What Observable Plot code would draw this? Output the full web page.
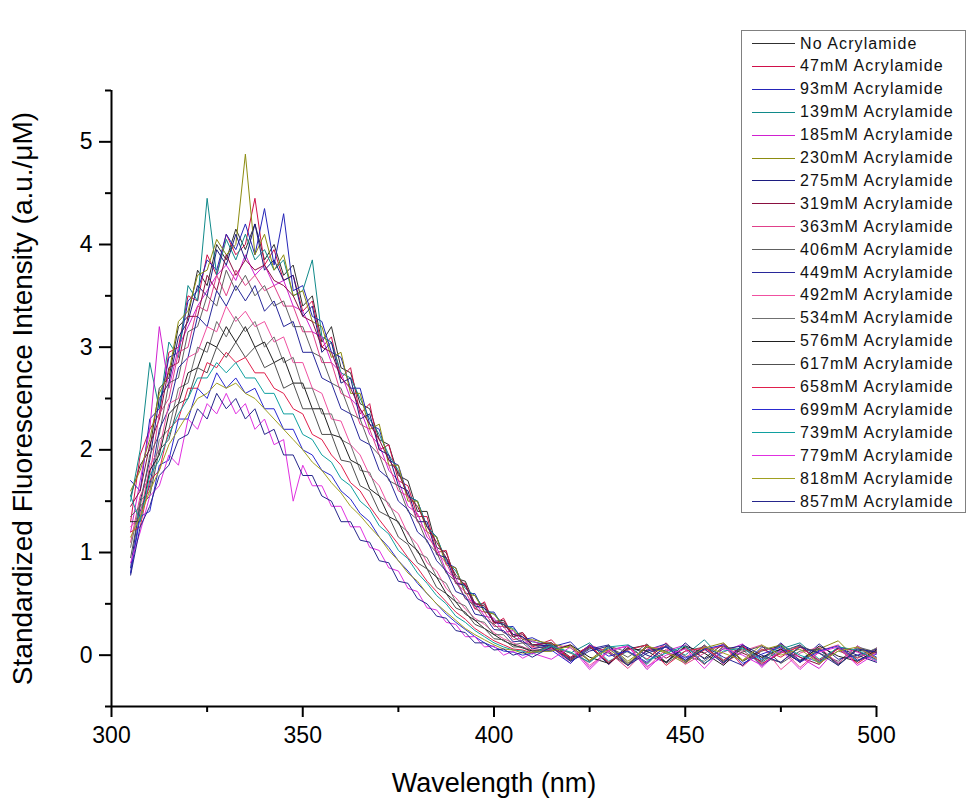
<!DOCTYPE html>
<html>
<head>
<meta charset="utf-8">
<script src="https://cdn.jsdelivr.net/npm/d3@7"></script>
<script src="https://cdn.jsdelivr.net/npm/@observablehq/plot@0.6"></script>
<style>
  html, body { margin: 0; padding: 0; background: #fff; }
  #wrap { position: relative; width: 967px; height: 799px; font-family: "Liberation Sans", Arial, sans-serif; }
  #legend { position: absolute; left: 741px; top: 30px; width: 225px; height: 483px; border: 1px solid #808080; background: #fff; box-sizing: border-box; }
  .row { position: absolute; left: 0; height: 22px; width: 222px; }
  .sw { position: absolute; left: 10px; width: 43px; top: 10.5px; height: 0; border-top: 1.4px solid #000; }
  .lb { position: absolute; left: 58px; top: 1px; font-size: 16px; letter-spacing: 1.1px; color: #111; white-space: nowrap; line-height: 20px; }
  svg [aria-label$="-axis tick"] { stroke-width: 2px; }
</style>
</head>
<body>
<div id="wrap"></div>
<script>
// Wavelength grid (nm)
const wl = [305,307.5,310,312.5,315,317.5,320,322.5,325,327.5,330,332.5,335,337.5,340,342.5,345,347.5,350,352.5,355,357.5,360,362.5,365,367.5,370,372.5,375,377.5,380,382.5,385,387.5,390,392.5,395,397.5,400,402.5,405,407.5,410,415,420,425,430,435,440,445,450,455,460,465,470,475,480,485,490,495,500];

const names = ["No Acrylamide","47mM Acrylamide","93mM Acrylamide","139mM Acrylamide","185mM Acrylamide","230mM Acrylamide","275mM Acrylamide","319mM Acrylamide","363mM Acrylamide","406mM Acrylamide","449mM Acrylamide","492mM Acrylamide","534mM Acrylamide","576mM Acrylamide","617mM Acrylamide","658mM Acrylamide","699mM Acrylamide","739mM Acrylamide","779mM Acrylamide","818mM Acrylamide","857mM Acrylamide"];

const colors = ["#303030","#d0104a","#2424b8","#108a8a","#d020d0","#8c8c10","#1c1c80","#8a1040","#e0408a","#606060","#28289a","#f050a0","#707070","#202020","#505050","#e0204c","#2a2ad0","#10a0a0","#e030e0","#a0a020","#26268c"];

// Series values (a.u./µM)
const s0 = [1.55,1.85,2.0,2.6,2.7,3.2,3.3,3.75,3.6,4.0,3.85,4.15,3.95,4.2,3.85,4.0,3.7,3.8,3.4,3.5,3.05,3.2,2.8,2.75,2.45,2.4,2.1,2.05,1.75,1.7,1.4,1.4,1.05,1.0,0.75,0.72,0.5,0.5,0.33,0.34,0.2,0.22,0.1,0.12,-0.02,0.09,-0.08,0.06,0.1,-0.07,0.08,-0.03,0.11,-0.06,0.04,0.09,-0.05,0.07,-0.09,0.05,0.02];
const s47 = [1.3,1.95,2.2,2.35,2.95,3.0,3.5,3.45,3.9,3.7,4.1,3.9,4.0,4.45,3.8,3.95,3.65,3.7,3.35,3.45,3.0,3.1,2.7,2.8,2.35,2.45,2.0,2.05,1.7,1.65,1.35,1.35,1.0,1.02,0.7,0.7,0.45,0.52,0.3,0.36,0.18,0.22,0.08,0.15,-0.05,0.1,-0.09,0.08,-0.04,0.12,-0.07,0.05,0.09,-0.1,0.06,-0.02,0.1,-0.08,0.07,-0.03,0.06];
const s93 = [1.7,1.6,2.3,2.4,2.9,2.95,3.45,3.55,3.85,3.75,4.1,3.95,4.2,3.9,4.35,3.8,4.3,3.55,3.6,3.3,3.25,2.95,2.9,2.6,2.6,2.25,2.2,1.9,1.85,1.55,1.5,1.25,1.15,0.9,0.85,0.6,0.6,0.42,0.42,0.27,0.28,0.15,0.17,0.08,0.13,-0.06,0.07,-0.1,0.05,0.11,-0.05,0.09,-0.07,0.1,-0.04,0.12,-0.06,0.05,-0.08,0.09,-0.02];
const s139 = [1.5,2.0,2.85,2.4,3.05,2.9,3.6,3.45,4.45,3.7,4.05,3.85,4.1,3.85,3.95,3.75,3.85,3.5,3.55,3.85,3.1,3.05,2.75,2.7,2.5,2.3,2.15,1.95,1.8,1.55,1.5,1.25,1.15,0.92,0.82,0.65,0.58,0.45,0.4,0.3,0.26,0.17,0.13,0.1,0.02,0.12,-0.06,0.04,-0.09,0.1,0.0,0.15,-0.05,0.08,-0.07,0.06,0.12,-0.04,0.07,-0.06,0.05];
const s185 = [1.2,1.7,2.2,3.2,2.6,3.0,3.2,3.4,3.55,3.7,3.8,3.65,3.9,3.7,3.8,3.6,3.65,3.4,3.35,3.15,3.1,2.85,2.75,2.5,2.4,2.15,2.05,1.8,1.7,1.45,1.38,1.15,1.05,0.82,0.75,0.55,0.52,0.38,0.36,0.22,0.24,0.12,0.14,0.06,0.1,-0.12,0.05,0.09,-0.14,0.04,0.1,-0.08,0.03,0.11,-0.12,0.06,-0.02,-0.13,0.08,0.03,-0.06];
const s230 = [1.6,1.8,2.1,2.55,2.75,3.25,3.35,3.7,3.75,4.05,3.9,4.0,4.88,3.9,4.1,3.75,3.9,3.5,3.55,3.25,3.2,2.9,2.95,2.55,2.55,2.2,2.25,1.85,1.85,1.5,1.5,1.2,1.15,0.88,0.85,0.6,0.58,0.42,0.4,0.28,0.25,0.15,0.15,0.11,0.07,-0.05,0.1,-0.06,0.08,0.02,-0.08,0.07,0.12,-0.05,0.05,0.1,-0.07,0.06,0.14,-0.05,0.03];
const s275 = [0.85,1.5,1.9,2.5,2.65,3.1,3.25,3.6,3.5,3.95,3.8,4.1,3.85,4.2,3.75,3.85,3.65,3.7,3.3,3.4,2.95,3.05,2.65,2.7,2.3,2.35,2.0,1.95,1.65,1.6,1.3,1.3,0.98,0.95,0.7,0.68,0.48,0.46,0.32,0.3,0.2,0.18,0.1,0.09,-0.03,0.08,-0.09,0.1,0.0,-0.07,0.12,-0.04,0.06,0.09,-0.1,0.03,0.1,-0.06,0.07,0.0,-0.07];
const s319 = [1.45,1.6,2.05,2.3,2.8,2.85,3.3,3.3,3.7,3.55,3.9,3.7,3.85,3.75,3.8,3.65,3.6,3.5,3.3,3.25,3.0,2.95,2.7,2.6,2.4,2.25,2.1,1.9,1.78,1.55,1.45,1.25,1.1,0.95,0.78,0.68,0.5,0.48,0.32,0.32,0.18,0.2,0.1,0.12,-0.04,0.08,0.04,-0.1,0.1,-0.03,0.07,-0.09,0.09,0.02,-0.06,0.11,-0.02,-0.09,0.08,0.04,-0.04];
const s363 = [1.1,1.55,1.75,2.35,2.5,2.95,3.0,3.4,3.35,3.7,3.5,3.75,3.6,3.7,3.55,3.6,3.4,3.4,3.15,3.15,2.85,2.85,2.55,2.5,2.25,2.2,1.95,1.85,1.6,1.55,1.3,1.2,1.0,0.9,0.7,0.62,0.45,0.42,0.28,0.28,0.15,0.17,0.07,0.08,-0.08,0.1,0.03,-0.13,0.06,0.09,-0.09,0.02,0.11,-0.11,0.05,0.07,-0.12,0.04,0.1,-0.08,0.07];
const s406 = [1.35,1.45,1.95,2.15,2.65,2.7,3.15,3.2,3.5,3.4,3.75,3.55,3.7,3.5,3.6,3.4,3.45,3.2,3.2,2.95,2.9,2.65,2.6,2.35,2.3,2.05,1.95,1.7,1.65,1.4,1.32,1.1,1.0,0.8,0.72,0.55,0.48,0.36,0.3,0.22,0.18,0.12,0.1,0.05,0.09,-0.06,0.08,-0.02,0.11,-0.08,0.04,0.08,-0.06,0.06,-0.02,-0.07,0.09,0.02,-0.06,0.08,0.03];
const s449 = [0.8,1.4,1.65,2.2,2.4,2.8,2.9,3.3,3.2,3.55,3.4,3.6,3.45,3.6,3.35,3.45,3.2,3.25,2.95,2.95,2.7,2.65,2.4,2.35,2.1,2.05,1.8,1.72,1.5,1.42,1.2,1.12,0.92,0.82,0.62,0.58,0.4,0.38,0.25,0.24,0.13,0.14,0.06,0.1,-0.06,0.06,0.1,-0.08,0.04,0.08,-0.07,0.09,-0.02,-0.1,0.08,0.04,-0.06,0.11,-0.04,0.0,0.06];
const s492 = [1.25,1.35,1.85,2.0,2.45,2.5,2.9,2.95,3.2,3.15,3.4,3.25,3.35,3.2,3.25,3.05,3.1,2.85,2.85,2.6,2.55,2.3,2.28,2.05,1.95,1.75,1.65,1.45,1.38,1.18,1.08,0.9,0.82,0.65,0.56,0.45,0.36,0.3,0.22,0.16,0.12,0.08,0.05,0.06,0.1,-0.1,0.04,0.09,-0.12,0.06,-0.02,0.09,-0.09,0.04,0.1,-0.14,0.02,0.08,-0.08,0.09,-0.04];
const s534 = [1.05,1.5,1.6,2.1,2.2,2.6,2.65,3.0,2.95,3.25,3.1,3.3,3.15,3.25,3.0,3.1,2.85,2.9,2.6,2.6,2.35,2.35,2.1,2.05,1.8,1.78,1.55,1.48,1.28,1.2,1.0,0.95,0.76,0.7,0.52,0.48,0.34,0.32,0.2,0.2,0.1,0.12,0.04,0.08,0.02,-0.07,0.09,0.03,-0.08,0.1,-0.01,-0.06,0.08,0.05,-0.09,0.04,0.09,-0.07,0.04,-0.02,0.07];
const s576 = [1.3,1.3,1.8,1.95,2.35,2.45,2.75,2.8,3.05,3.0,3.2,3.05,3.2,3.0,3.05,2.85,2.9,2.65,2.65,2.4,2.4,2.15,2.12,1.9,1.85,1.62,1.55,1.35,1.3,1.1,1.02,0.84,0.76,0.6,0.52,0.4,0.34,0.26,0.2,0.14,0.1,0.07,0.04,0.04,0.1,-0.02,-0.08,0.07,0.04,-0.07,0.09,0.02,-0.1,0.08,-0.02,0.06,-0.07,0.09,-0.01,-0.06,0.05];
const s617 = [0.95,1.45,1.55,2.0,2.1,2.45,2.5,2.8,2.75,3.0,2.9,3.05,2.9,3.0,2.8,2.85,2.6,2.65,2.4,2.4,2.15,2.15,1.9,1.88,1.65,1.6,1.4,1.35,1.15,1.08,0.9,0.84,0.66,0.6,0.46,0.42,0.3,0.26,0.16,0.15,0.08,0.08,0.02,0.1,-0.05,0.07,0.02,-0.1,0.08,0.04,-0.06,0.1,-0.07,0.03,0.09,-0.08,0.04,0.06,-0.1,0.07,0.02];
const s658 = [1.2,1.25,1.7,1.8,2.2,2.3,2.6,2.6,2.85,2.8,2.95,2.85,2.9,2.75,2.75,2.6,2.55,2.4,2.35,2.15,2.1,1.95,1.85,1.68,1.6,1.45,1.32,1.2,1.08,0.95,0.85,0.72,0.62,0.52,0.42,0.35,0.26,0.2,0.14,0.1,0.06,0.05,0.02,0.07,-0.02,0.09,-0.07,0.05,0.1,-0.1,0.04,0.07,-0.05,0.09,-0.08,0.02,0.08,-0.05,0.06,-0.08,0.04];
const s699 = [0.8,1.35,1.4,1.85,1.9,2.3,2.3,2.6,2.5,2.75,2.6,2.7,2.55,2.6,2.4,2.4,2.2,2.2,2.0,1.95,1.8,1.75,1.6,1.52,1.38,1.3,1.15,1.05,0.92,0.82,0.7,0.6,0.5,0.4,0.32,0.25,0.18,0.12,0.08,0.04,0.03,0.0,0.02,0.05,-0.08,0.1,-0.01,0.04,-0.07,0.09,-0.03,0.06,0.1,-0.08,0.01,0.08,-0.07,0.04,0.09,-0.05,0.01];
const s739 = [1.55,1.3,1.75,1.9,2.15,2.35,2.5,2.7,2.7,2.85,2.75,2.85,2.7,2.7,2.55,2.55,2.35,2.35,2.15,2.1,1.95,1.88,1.72,1.65,1.5,1.42,1.26,1.18,1.02,0.94,0.8,0.7,0.58,0.5,0.38,0.32,0.24,0.18,0.12,0.08,0.05,0.04,0.01,0.09,0.03,-0.07,0.08,0.1,-0.05,0.02,0.09,-0.08,0.04,0.07,-0.05,0.1,0.0,-0.07,0.08,0.05,-0.05];
const s779 = [0.9,1.2,1.55,1.65,1.95,1.85,2.3,2.2,2.45,2.35,2.55,2.35,2.45,2.2,2.3,2.05,2.1,1.5,1.85,1.65,1.65,1.45,1.45,1.25,1.25,1.05,1.02,0.85,0.82,0.65,0.62,0.46,0.44,0.32,0.3,0.18,0.18,0.08,0.09,0.0,0.04,-0.03,0.02,-0.04,0.08,-0.14,0.04,0.09,-0.11,0.0,0.06,-0.13,0.07,0.0,-0.1,0.05,-0.14,0.03,0.08,-0.1,0.02];
const s818 = [1.15,1.35,1.6,1.8,2.05,2.2,2.35,2.5,2.55,2.65,2.6,2.65,2.55,2.5,2.4,2.3,2.2,2.1,2.0,1.88,1.8,1.68,1.58,1.45,1.36,1.25,1.15,1.02,0.92,0.8,0.72,0.6,0.5,0.42,0.34,0.26,0.2,0.15,0.1,0.06,0.05,0.02,0.03,0.04,0.09,-0.05,0.06,-0.08,0.09,0.03,-0.06,0.08,0.02,-0.05,0.1,0.0,0.06,-0.08,0.04,0.08,-0.03];
const s857 = [0.78,1.25,1.45,1.75,1.85,2.1,2.15,2.4,2.3,2.55,2.4,2.5,2.3,2.4,2.15,2.2,1.95,1.95,1.75,1.75,1.55,1.5,1.3,1.3,1.12,1.1,0.92,0.9,0.72,0.7,0.55,0.5,0.38,0.36,0.24,0.22,0.12,0.12,0.05,0.06,0.0,0.03,-0.02,0.08,-0.06,0.04,0.09,-0.1,0.02,0.08,-0.05,0.06,-0.08,0.1,0.0,-0.07,0.08,0.02,-0.1,0.06,0.03];

const xMajor = [300, 350, 400, 450, 500];
const xMinor = [325, 375, 425, 475];
const yMajor = [0, 1, 2, 3, 4, 5];
const yMinor = [-0.5, 0.5, 1.5, 2.5, 3.5, 4.5, 5.5];

const xTitle = "Wavelength (nm)";
const yTitle = "Standardized Fluorescence Intensity (a.u./\u03BCM)";

const seriesList = [s0,s47,s93,s139,s185,s230,s275,s319,s363,s406,s449,s492,s534,s576,s617,s658,s699,s739,s779,s818,s857];
const data = [];
seriesList.forEach((arr, k) => {
  arr.forEach((v, i) => { if (i < wl.length) data.push({wl: wl[i], v, s: names[k]}); });
});

const chart = Plot.plot({
  width: 967,
  height: 799,
  marginLeft: 111,
  marginRight: 91,
  marginTop: 90,
  marginBottom: 93,
  style: {fontFamily: "'Liberation Sans', Arial, sans-serif", background: "#fff", overflow: "visible", color: "#000"},
  x: {domain: [300, 500]},
  y: {domain: [-0.5, 5.5]},
  color: {domain: names, range: colors},
  marks: [
    Plot.line(data, {x: "wl", y: "v", z: "s", stroke: "s", strokeWidth: 1}),
    Plot.axisX(xMajor, {tickSize: 11, tickPadding: 9, fontSize: 23, strokeWidth: 2, tickFormat: (d) => String(d), label: null}),
    Plot.axisX(xMinor, {tickSize: 6, tickFormat: () => "", strokeWidth: 2, label: null}),
    Plot.axisX([], {label: xTitle, labelAnchor: "center", labelOffset: 85, labelArrow: false, fontSize: 27, tickSize: 0}),
    Plot.axisY(yMajor, {tickSize: 12, tickPadding: 7, fontSize: 23, strokeWidth: 2, tickFormat: (d) => String(d), label: null}),
    Plot.axisY(yMinor, {tickSize: 6, tickFormat: () => "", strokeWidth: 2, label: null}),
    Plot.axisY([], {label: yTitle, labelAnchor: "center", labelOffset: 99, labelArrow: false, fontSize: 28, tickSize: 0}),
    Plot.ruleX([300], {strokeWidth: 2}),
    Plot.ruleY([-0.5], {strokeWidth: 2})
  ]
});

const wrap = document.getElementById("wrap");
wrap.appendChild(chart);
chart.style.position = "absolute";
chart.style.left = "0px";
chart.style.top = "0px";

const legend = document.createElement("div");
legend.id = "legend";
names.forEach((n, i) => {
  const row = document.createElement("div");
  row.className = "row";
  row.style.top = (1.5 + i * 22.9) + "px";
  const sw = document.createElement("div");
  sw.className = "sw";
  sw.style.borderTopColor = colors[i];
  const lb = document.createElement("div");
  lb.className = "lb";
  lb.textContent = n;
  row.appendChild(sw);
  row.appendChild(lb);
  legend.appendChild(row);
});
wrap.appendChild(legend);
</script>
</body>
</html>
